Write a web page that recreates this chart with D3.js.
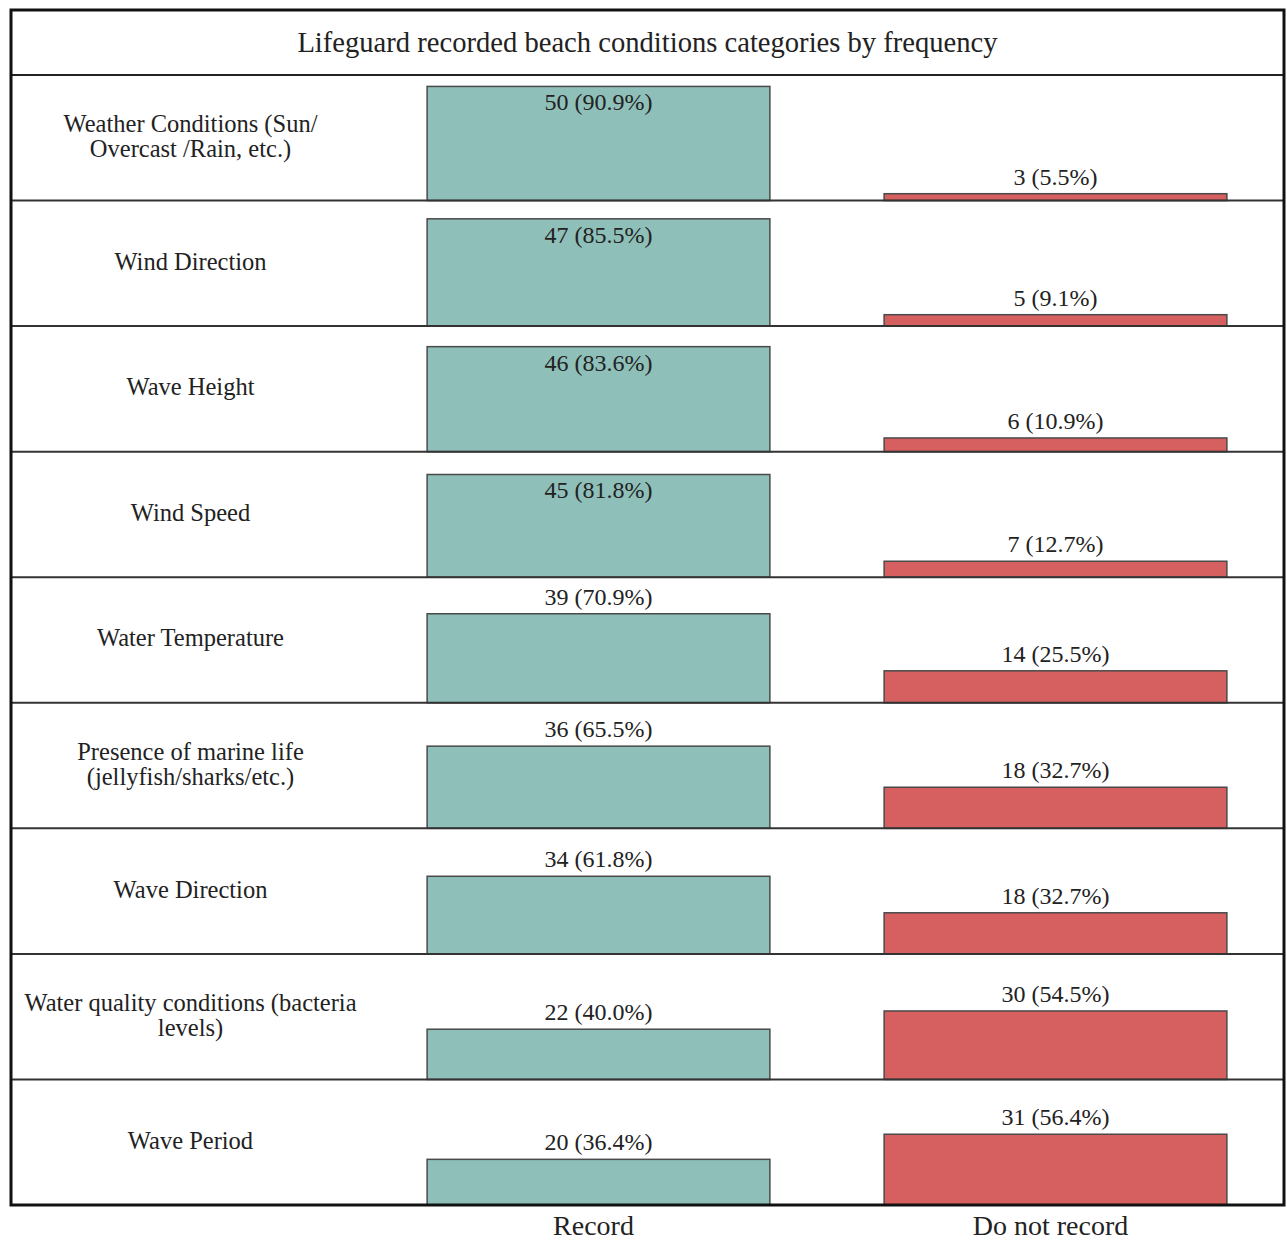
<!DOCTYPE html>
<html>
<head>
<meta charset="utf-8">
<script src="https://cdn.jsdelivr.net/npm/d3@7"></script>
<style>
  html, body { margin: 0; padding: 0; background: #fff; }
  svg { display: block; }
  text { font-family: "Liberation Serif", "Times New Roman", serif; fill: #222; }
</style>
</head>
<body>
<svg id="chart" width="1287" height="1240"></svg>
<script>
const title = "Lifeguard recorded beach conditions categories by frequency";
const categories = [
  ["Weather Conditions (Sun/", "Overcast /Rain, etc.)"],
  ["Wind Direction"],
  ["Wave Height"],
  ["Wind Speed"],
  ["Water Temperature"],
  ["Presence of marine life", "(jellyfish/sharks/etc.)"],
  ["Wave Direction"],
  ["Water quality conditions (bacteria", "levels)"],
  ["Wave Period"]
];
const groups = ["Record", "Do not record"];
const recordCounts = [50, 47, 46, 45, 39, 36, 34, 22, 20];
const recordPct = ["90.9", "85.5", "83.6", "81.8", "70.9", "65.5", "61.8", "40.0", "36.4"];
const notRecordCounts = [3, 5, 6, 7, 14, 18, 18, 30, 31];
const notRecordPct = ["5.5", "9.1", "10.9", "12.7", "25.5", "32.7", "32.7", "54.5", "56.4"];
const totalRespondents = 55;
const colors = ["#8ebfb9", "#d65f5f"];

const svg = d3.select("#chart");
const frame = {left: 11, top: 10, right: 1284, bottom: 1205};
const titleBottom = 75;
const labelColRight = 370;

const rowScale = d3.scaleBand()
  .domain(d3.range(categories.length))
  .range([titleBottom, frame.bottom])
  .padding(0);
const rowH = rowScale.bandwidth();

const x = d3.scaleBand()
  .domain(groups)
  .range([labelColRight, frame.right])
  .paddingInner(0.25)
  .paddingOuter(0.125);

const y = d3.scaleLinear().domain([0, totalRespondents]).range([rowH, 0]);

// title
svg.append("text")
  .attr("x", (frame.left + frame.right) / 2)
  .attr("y", (frame.top + titleBottom) / 2)
  .attr("text-anchor", "middle")
  .attr("dominant-baseline", "central")
  .style("font-size", "28.6px")
  .text(title);

const rows = svg.selectAll("g.row")
  .data(categories.map((c, i) => ({
    label: c,
    vals: [
      {g: groups[0], n: recordCounts[i], p: recordPct[i]},
      {g: groups[1], n: notRecordCounts[i], p: notRecordPct[i]}
    ]
  })))
  .join("g")
  .attr("class", "row")
  .attr("transform", (d, i) => `translate(0,${rowScale(i)})`);

// category labels
rows.append("text")
  .attr("x", (frame.left + labelColRight) / 2)
  .attr("text-anchor", "middle")
  .style("font-size", "24.5px")
  .each(function(d) {
    const t = d3.select(this);
    const n = d.label.length;
    const lh = 25;
    d.label.forEach((line, k) => {
      t.append("tspan")
        .attr("x", (frame.left + labelColRight) / 2)
        .attr("y", rowH / 2 - 2 + (k - (n - 1) / 2) * lh)
        .attr("dominant-baseline", "central")
        .text(line);
    });
  });

// bars
rows.selectAll("rect.bar")
  .data(d => d.vals)
  .join("rect")
  .attr("class", "bar")
  .attr("x", v => x(v.g))
  .attr("width", x.bandwidth())
  .attr("y", v => y(v.n))
  .attr("height", v => y(0) - y(v.n))
  .attr("fill", (v, k) => colors[k])
  .attr("stroke", "#4a4a4a")
  .attr("stroke-width", 1.5);

// value labels
rows.selectAll("text.val")
  .data(d => d.vals)
  .join("text")
  .attr("class", "val")
  .attr("x", v => x(v.g) + x.bandwidth() / 2)
  .attr("y", v => {
    const top = y(v.n);
    return top - 17 - 12 < 0 ? top + 16 : top - 17;
  })
  .attr("text-anchor", "middle")
  .attr("dominant-baseline", "central")
  .style("font-size", "24px")
  .text(v => `${v.n} (${v.p}%)`);

// row separators
svg.selectAll("line.sep")
  .data(d3.range(categories.length - 1))
  .join("line")
  .attr("class", "sep")
  .attr("x1", frame.left).attr("x2", frame.right)
  .attr("y1", i => rowScale(i) + rowH).attr("y2", i => rowScale(i) + rowH)
  .attr("stroke", "#333").attr("stroke-width", 2);

svg.append("line")
  .attr("x1", frame.left).attr("x2", frame.right)
  .attr("y1", titleBottom).attr("y2", titleBottom)
  .attr("stroke", "#222").attr("stroke-width", 2);

// frame
svg.append("rect")
  .attr("x", frame.left).attr("y", frame.top)
  .attr("width", frame.right - frame.left)
  .attr("height", frame.bottom - frame.top)
  .attr("fill", "none")
  .attr("stroke", "#111")
  .attr("stroke-width", 3);

// x axis
const axis = svg.append("g")
  .attr("transform", `translate(-5,${frame.bottom})`)
  .call(d3.axisBottom(x).tickSize(0).tickPadding(0));
axis.select(".domain").remove();
axis.selectAll("text")
  .attr("y", 20)
  .attr("dy", null)
  .attr("dominant-baseline", "central")
  .style("font-size", "28px")
  .style("font-family", "'Liberation Serif', serif")
  .attr("fill", "#222");
</script>
</body>
</html>
